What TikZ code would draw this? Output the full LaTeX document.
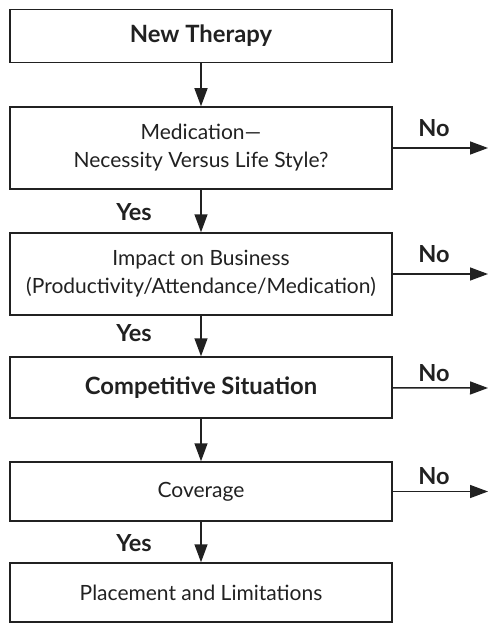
\documentclass[tikz,border=0pt]{standalone}
\usepackage{fontspec}
\setmainfont{Lato}
\usetikzlibrary{arrows.meta}

\tikzset{box/.style={draw,line width=1.5pt,minimum width=382pt,align=center,inner sep=0pt},
  heavy/.style={font=\fontsize{23.8}{28}\selectfont\bfseries},
  answer/.style={font=\fontsize{23.5}{28}\selectfont\bfseries}}

\begin{document}
\begin{tikzpicture}[line join=miter,>={Triangle[length=18pt,width=13pt]},x=1pt,y=-1pt,font=\fontsize{21}{28}\selectfont,color={black!87}]
\useasboundingbox (0,0) rectangle (488,623);
\node[box,heavy,minimum height=53pt] (therapy) at (201,36) {New Therapy};
\node[box,minimum height=82pt] (medic) at (201,148) {Medication---\\Necessity Versus Life Style?};
\node[box,minimum height=82pt] (impact) at (201,274) {Impact on Business\\(Productivity/Attendance/Medication)};
\node[box,heavy,minimum height=61pt] (compet) at (201,387.5) {Competitive Situation};
\node[box,minimum height=59pt] (cover) at (201,491.5) {Coverage};
\node[box,minimum height=59pt] (place) at (201,592.5) {Placement and Limitations};
\coordinate (medicno) at (488,148);
\coordinate (impactno) at (488,274);
\coordinate (competno) at (488,388);
\coordinate (coverno) at (488,491.5);
\draw [line width=1.5pt,->] (therapy) -- (medic);
\draw [line width=1.5pt,->] (medic) -- (impact);
\draw [line width=1.5pt,->] (impact) -- (compet);
\draw [line width=1.5pt,->] (compet) -- (cover);
\draw [line width=1.5pt,->] (cover) -- (place);
\draw [line width=1.5pt,->] (medic) -- (medicno);
\draw [line width=1.5pt,->] (impact) -- (impactno);
\draw [line width=1.5pt,->] (compet) -- (competno);
\draw [line width=1.5pt,->] (cover) -- (coverno);
\node[answer] (medicnolbl) at (434,128) {No};
\node[answer] (impactnolbl) at (434,254) {No};
\node[answer] (competnolbl) at (434,373) {No};
\node[answer] (covernolbl) at (434,476) {No};
\node[answer] (medicyes) at (134,212) {Yes};
\node[answer] (impactyes) at (134,333) {Yes};
\node[answer] (coveryes) at (134,543) {Yes};
\end{tikzpicture}
\end{document}
